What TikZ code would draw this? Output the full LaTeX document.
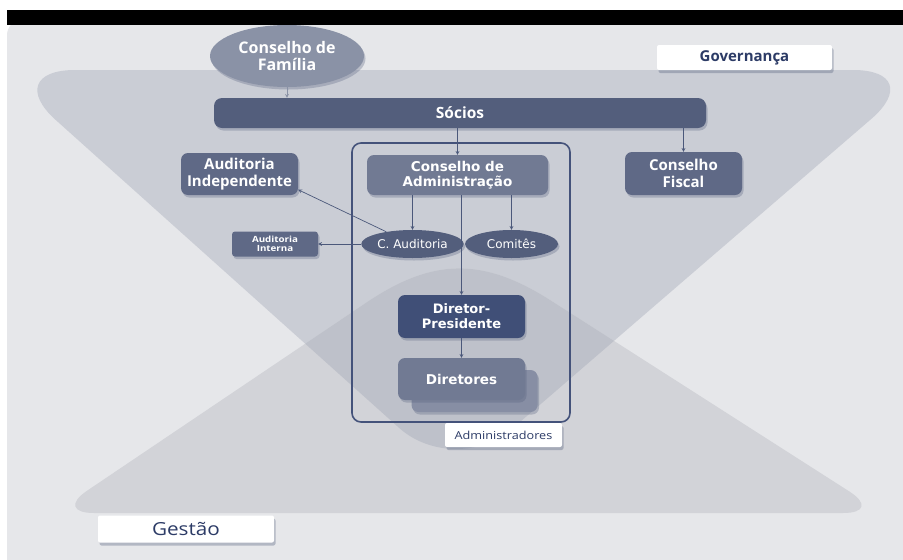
\documentclass[tikz,border=0pt]{standalone}
\usepackage{fontspec}
\setmainfont{Open Sans}
\newfontfamily\wideface{DejaVu Sans}
\newfontfamily\broadsans{Open Sans}[FakeStretch=1.15]
\usetikzlibrary{positioning, calc, shapes.geometric, arrows, shadows}

\definecolor{bggrey}{HTML}{E6E7EA}
\definecolor{govgrey}{HTML}{CACDD5}
\definecolor{gesgrey}{HTML}{D2D3D8}
\definecolor{bothgrey}{HTML}{BEC1CA}
\definecolor{slate}{HTML}{535E7C}
\definecolor{slatemid}{HTML}{5F6986}
\definecolor{slatelight}{HTML}{717A93}
\definecolor{slateback}{HTML}{878EA4}
\definecolor{navy}{HTML}{404F77}
\definecolor{familygrey}{HTML}{8A92A6}
\definecolor{framenavy}{HTML}{44527A}
\definecolor{labelnavy}{HTML}{2C3B66}
\definecolor{arrowgrey}{HTML}{4B587A}

\tikzset{
    orgbox/.style={rectangle, rounded corners=7pt, fill=#1, text=white, align=center, inner sep=1pt,
        drop shadow={shadow xshift=1.5pt, shadow yshift=-2.5pt, opacity=0.3, fill=slate}},
    oval/.style={ellipse, fill=#1, text=white, align=center, inner sep=1pt,
        drop shadow={shadow xshift=1.5pt, shadow yshift=-2.5pt, opacity=0.3, fill=slate}},
    labelbox/.style={rectangle, rounded corners=2pt, fill=white, text=labelnavy, inner sep=1pt,
        drop shadow={shadow xshift=1.5pt, shadow yshift=-3pt, opacity=0.35, fill=slate}},
    link/.style={draw=arrowgrey, line width=0.7pt, -stealth},
}

\begin{document}
\begin{tikzpicture}[x=1pt, y=-1pt]
    \useasboundingbox (0,0) rectangle (903,560);
    \fill[white] (0,0) rectangle (903,560);
    \fill[bggrey, rounded corners=15pt] (7,20) rectangle (930,590);

    % governance and management areas
    \coordinate (gtl) at (0,70);
    \coordinate (gtr) at (928,70);
    \coordinate (gap) at (455,478);
    \coordinate (gbl) at (54,513);
    \coordinate (gbr) at (883,513);
    \coordinate (gl)  at (333.5,324.7);
    \coordinate (gc1) at (433,257.7);
    \coordinate (gc2) at (483,257.2);
    \coordinate (gr)  at (584.3,321.9);

    \fill[govgrey, rounded corners=75pt] (gtl) -- (gtr) -- (gap) -- cycle;
    \fill[gesgrey, rounded corners=40pt] (gbl) -- (gl) .. controls (gc1) and (gc2) .. (gr) -- (gbr) -- cycle;
    \begin{scope}
        \clip[rounded corners=75pt] (gtl) -- (gtr) -- (gap) -- cycle;
        \fill[bothgrey, rounded corners=40pt] (gbl) -- (gl) .. controls (gc1) and (gc2) .. (gr) -- (gbr) -- cycle;
    \end{scope}

    \node (family) [oval=familygrey, minimum width=154pt, minimum height=62pt,
        font=\bfseries\fontsize{16}{17}\selectfont] at (287,56) {Conselho de\\Família};
    \fill[black] (7,10) rectangle (903,25);

    \node (governanca) [labelbox, minimum width=175pt, minimum height=25pt,
        font=\bfseries\fontsize{15}{17}\selectfont] at (744.5,57.5) {Governança};
    \node (socios) [orgbox=slate, rounded corners=8pt, minimum width=492pt, minimum height=30pt,
        font=\bfseries\fontsize{15.5}{17}\selectfont] at (460,113) {Sócios};

    \node (admframe) [draw=framenavy, line width=1.6pt, rounded corners=9pt,
        minimum width=218pt, minimum height=279pt] at (461,282.5) {};

    \node (consadm) [orgbox=slatelight, minimum width=181pt, minimum height=40pt,
        font=\wideface\bfseries\fontsize{13.5}{15}\selectfont] at (457.5,175) {Conselho de\\Administração};
    \node (fiscal) [orgbox=slatemid, minimum width=117pt, minimum height=43pt,
        font=\bfseries\fontsize{15}{16.5}\selectfont] at (683.5,173.5) {Conselho\\Fiscal};
    \node (audind) [orgbox=slatemid, minimum width=117pt, minimum height=42pt,
        font=\bfseries\fontsize{15}{16.5}\selectfont] at (239.5,174) {Auditoria\\Independente};
    \node (caud) [oval=slate, minimum width=85pt, minimum height=28pt,
        font=\wideface\fontsize{12}{13}\selectfont] at (412.5,244) {C. Auditoria};
    \node (comites) [oval=slate, minimum width=93pt, minimum height=28pt,
        font=\wideface\fontsize{12}{13}\selectfont] at (511.5,244) {Comitês};
    \node (audint) [orgbox=slatemid, rounded corners=3pt, minimum width=86pt, minimum height=25pt,
        font=\broadsans\bfseries\fontsize{8.5}{8.5}\selectfont] at (275,244) {Auditoria\\Interna};
    \node (dirpres) [orgbox=navy, minimum width=127pt, minimum height=43pt,
        font=\wideface\bfseries\fontsize{13}{15}\selectfont] at (461.5,316.5) {Diretor-\\Presidente};
    \node (dirback) [orgbox=slateback, minimum width=126pt, minimum height=42pt] at (474.5,391) {};
    \node (diretores) [orgbox=slatelight, minimum width=127pt, minimum height=42pt,
        font=\wideface\bfseries\fontsize{13.5}{15}\selectfont] at (461.5,379) {Diretores};

    \node (admlabel) [labelbox, minimum width=117pt, minimum height=24pt,
        font=\broadsans\fontsize{11}{12}\selectfont] at (503.5,435) {Administradores};
    \node (gestao) [labelbox, minimum width=176pt, minimum height=27pt,
        font=\broadsans\fontsize{18}{20}\selectfont] at (186,529) {Gestão};

    % connectors
    \draw[link, draw=familygrey] (family.south) -- (family.south |- socios.north);
    \draw[link] (socios.south -| consadm.north) -- (consadm.north);
    \draw[link] (socios.south -| fiscal.north) -- (fiscal.north);
    \draw[link] (consadm.south -| caud.north) -- (caud.north);
    \draw[link] (consadm.south -| comites.north) -- (comites.north);
    \draw[link] (consadm.south -| dirpres.north) -- (dirpres.north);
    \draw[link] (dirpres.south) -- (diretores.north);
    \draw[link] (caud.155) -- (audind.-15);
    \draw[link] (caud.west) -- (audint.east);
\end{tikzpicture}
\end{document}
